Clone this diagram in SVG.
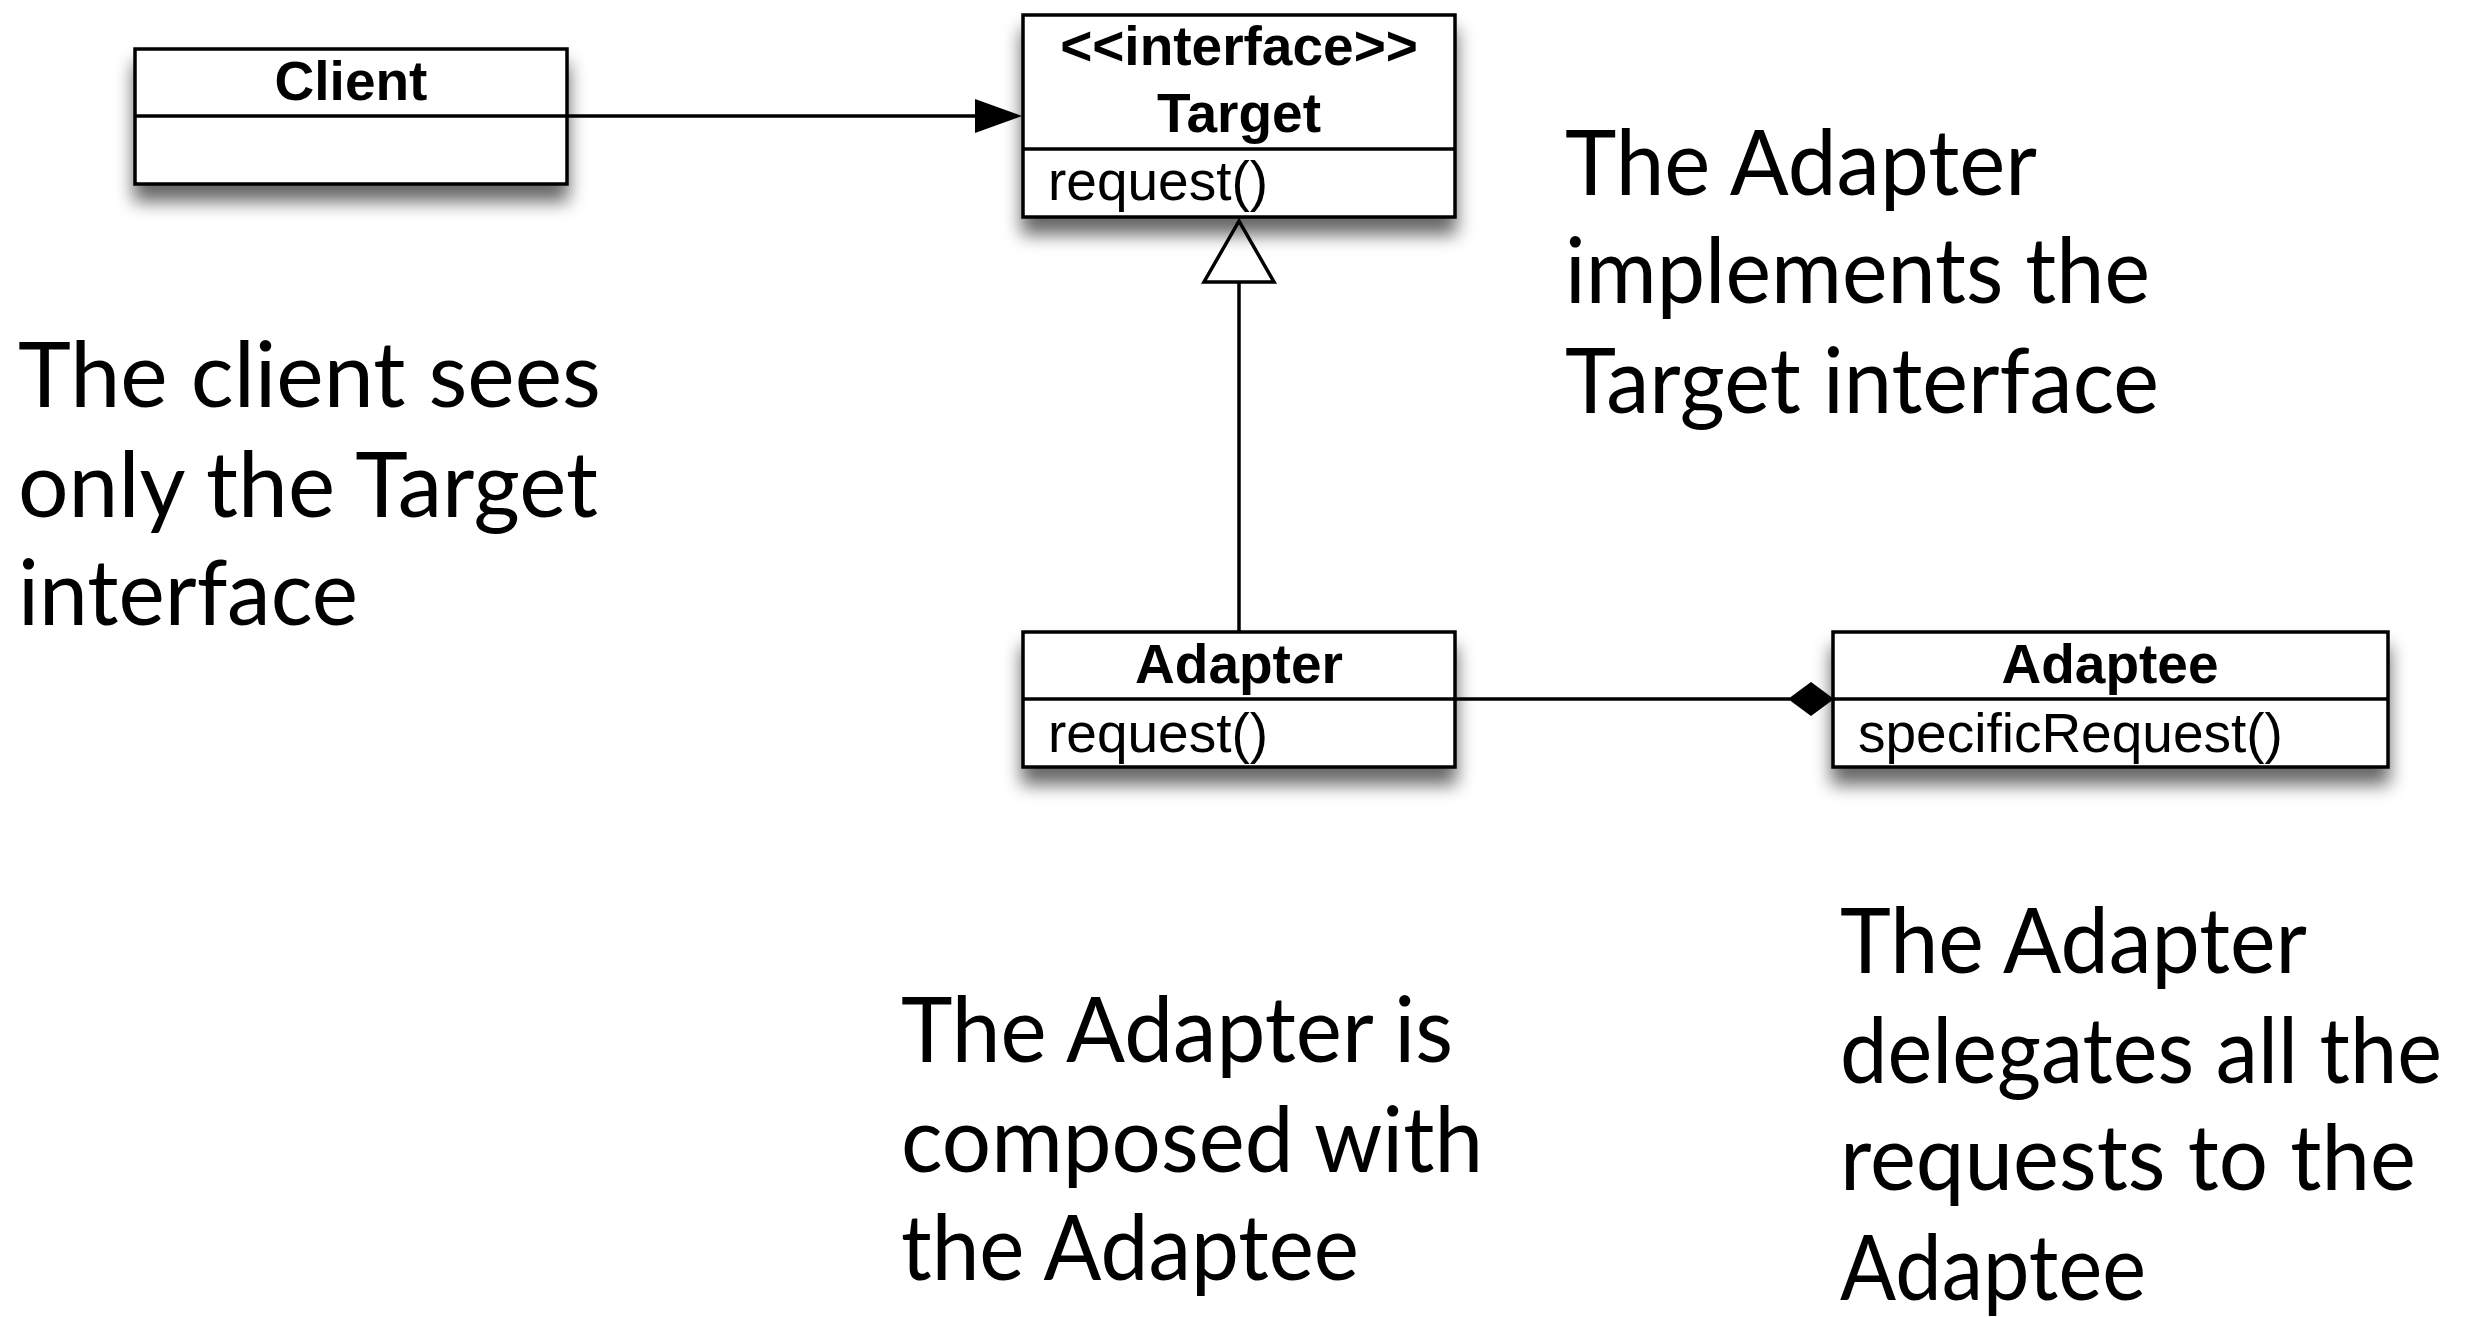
<svg xmlns="http://www.w3.org/2000/svg" width="2471" height="1317" viewBox="0 0 2471 1317">
<style>
.box{fill:#fff;stroke:#000;stroke-width:3.5}
.div{stroke:#000;stroke-width:3.5}
.name{font-family:"Liberation Sans",Arial,sans-serif;font-weight:bold;font-size:55px;text-anchor:middle;fill:#000}
.op{font-family:"Liberation Sans",Arial,sans-serif;font-size:55px;fill:#000}
.note{font-family:Lato,"Open Sans",sans-serif;font-size:92px;fill:#000}
.line{stroke:#000;stroke-width:3.5;fill:none}
</style>
<defs>
<filter id="sh" x="-20%" y="-30%" width="140%" height="180%">
<feGaussianBlur in="SourceAlpha" stdDeviation="9"/>
<feOffset dx="0" dy="16" result="b"/>
<feComponentTransfer><feFuncA type="linear" slope="0.6"/></feComponentTransfer>
<feMerge><feMergeNode/><feMergeNode in="SourceGraphic"/></feMerge>
</filter>
</defs>
<rect width="2471" height="1317" fill="#fff"/>
<g id="connectors">
<line class="line" x1="567" y1="116" x2="980" y2="116"/>
<polygon points="1022,116 975,99 975,133" fill="#000"/>
<line class="line" x1="1239" y1="632" x2="1239" y2="282"/>
<polygon points="1239,221 1204,282 1274,282" fill="#fff" stroke="#000" stroke-width="3.5"/>
<line class="line" x1="1455" y1="699" x2="1790" y2="699"/>
<polygon points="1788,699 1811,682 1834,699 1811,716" fill="#000"/>
</g>
<g id="client">
<rect class="box" x="135" y="49" width="432" height="135" filter="url(#sh)"/>
<line class="div" x1="135" y1="116" x2="567" y2="116"/>
<text class="name" x="351" y="100">Client</text>
</g>
<g id="target">
<rect class="box" x="1023" y="15" width="432" height="202" filter="url(#sh)"/>
<line class="div" x1="1023" y1="149" x2="1455" y2="149"/>
<text class="name" x="1239" y="65">&lt;&lt;interface&gt;&gt;</text>
<text class="name" x="1239" y="132">Target</text>
<text class="op" x="1048" y="200">request()</text>
</g>
<g id="adapter">
<rect class="box" x="1023" y="632" width="432" height="135" filter="url(#sh)"/>
<line class="div" x1="1023" y1="699" x2="1455" y2="699"/>
<text class="name" x="1239" y="683">Adapter</text>
<text class="op" x="1048" y="752">request()</text>
</g>
<g id="adaptee">
<rect class="box" x="1833" y="632" width="555" height="135" filter="url(#sh)"/>
<line class="div" x1="1833" y1="699" x2="2388" y2="699"/>
<text class="name" x="2110" y="683">Adaptee</text>
<text class="op" x="1858" y="752">specificRequest()</text>
</g>
<g id="notes">
<text class="note" x="18" y="407" textLength="583" lengthAdjust="spacingAndGlyphs">The client sees</text>
<text class="note" x="18" y="517" textLength="580" lengthAdjust="spacingAndGlyphs">only the Target</text>
<text class="note" x="18" y="625" textLength="340" lengthAdjust="spacingAndGlyphs">interface</text>
<text class="note" x="1565" y="195" textLength="472" lengthAdjust="spacingAndGlyphs">The Adapter</text>
<text class="note" x="1565" y="303" textLength="585" lengthAdjust="spacingAndGlyphs">implements the</text>
<text class="note" x="1565" y="413" textLength="594" lengthAdjust="spacingAndGlyphs">Target interface</text>
<text class="note" x="901" y="1062" textLength="552" lengthAdjust="spacingAndGlyphs">The Adapter is</text>
<text class="note" x="901" y="1172" textLength="582" lengthAdjust="spacingAndGlyphs">composed with</text>
<text class="note" x="901" y="1280" textLength="458" lengthAdjust="spacingAndGlyphs">the Adaptee</text>
<text class="note" x="1840" y="973" textLength="467" lengthAdjust="spacingAndGlyphs">The Adapter</text>
<text class="note" x="1840" y="1083" textLength="602" lengthAdjust="spacingAndGlyphs">delegates all the</text>
<text class="note" x="1840" y="1190" textLength="576" lengthAdjust="spacingAndGlyphs">requests to the</text>
<text class="note" x="1840" y="1300" textLength="306" lengthAdjust="spacingAndGlyphs">Adaptee</text>
</g>
</svg>
